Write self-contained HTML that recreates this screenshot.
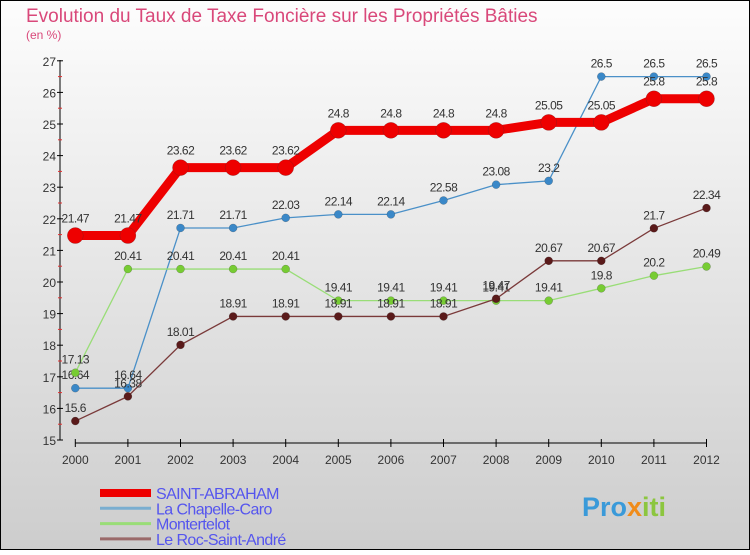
<!DOCTYPE html>
<html><head><meta charset="utf-8"><style>
body{margin:0;width:750px;height:550px;overflow:hidden;font-family:"Liberation Sans",sans-serif}
</style></head><body>
<svg id="c" width="750" height="550" xmlns="http://www.w3.org/2000/svg">
<defs><linearGradient id="bg" x1="0" y1="0" x2="0" y2="1"><stop offset="0" stop-color="#fdfdfd"/><stop offset="1" stop-color="#cdcdcd"/></linearGradient></defs>
<rect x="0" y="0" width="750" height="550" fill="url(#bg)" stroke="#000" stroke-width="2"/>
<text x="26" y="22" font-size="19" fill="#d9487a">Evolution du Taux de Taxe Foncière sur les Propriétés Bâties</text>
<text x="26" y="39" font-size="12" fill="#d9487a">(en %)</text>
<g id="axes"></g><g id="series"></g><g id="legend"></g>
<text x="582" y="516" font-size="27" font-weight="bold" fill="#3a9ad9">Pro<tspan fill="#f08c1a">x</tspan><tspan fill="#8cc63f">iti</tspan></text>
</svg>
<script>
const years=[2000,2001,2002,2003,2004,2005,2006,2007,2008,2009,2010,2011,2012];
const saint=[21.47,21.47,23.62,23.62,23.62,24.8,24.8,24.8,24.8,25.05,25.05,25.8,25.8];
const chapelle=[16.64,16.64,21.71,21.71,22.03,22.14,22.14,22.58,23.08,23.2,26.5,26.5,26.5];
const monter=[17.13,20.41,20.41,20.41,20.41,19.41,19.41,19.41,19.41,19.41,19.8,20.2,20.49];
const roc=[15.6,16.38,18.01,18.91,18.91,18.91,18.91,18.91,19.47,20.67,20.67,21.7,22.34];
const yTicks=[15,16,17,18,19,20,21,22,23,24,25,26,27];
const names=["SAINT-ABRAHAM","La Chapelle-Caro","Montertelot","Le Roc-Saint-André"];
const NS="http://www.w3.org/2000/svg";
const X=i=>75.3+i*52.6, Y=v=>440-(v-15)*31.6;
function mk(p,t,a,txt){const e=document.createElementNS(NS,t);for(const k in a)e.setAttribute(k,a[k]);if(txt!==undefined)e.textContent=txt;p.appendChild(e);return e;}
const ax=document.getElementById('axes');
let e=mk(ax,'line',{x1:60,y1:60,x2:60,y2:440,stroke:'#000'});

yTicks.forEach(t=>{mk(ax,'line',{x1:57,x2:63,y1:Y(t),y2:Y(t),stroke:'#000'});
 if(t<27)mk(ax,'line',{x1:58,x2:62,y1:Y(t+0.5),y2:Y(t+0.5),stroke:'#e03030'});
 e=mk(ax,'text',{x:56,y:Y(t)+5,'font-size':12,'text-anchor':'end',fill:'#333'},t);
 });
e=mk(ax,'line',{x1:X(0),y1:443,x2:X(12),y2:443,stroke:'#000'});

years.forEach((y,i)=>{mk(ax,'line',{x1:X(i),x2:X(i),y1:439,y2:447,stroke:'#000'});
 e=mk(ax,'text',{x:X(i),y:464,'font-size':12,'text-anchor':'middle',fill:'#333'},y);
 });
const defs=[[chapelle,'#4a90c8',1.3,4,'#3a88c8'],[monter,'#99dd77',1.3,4,'#77cc33'],[roc,'#7a3a3a',1.3,4,'#5a1a1a'],[saint,'#ee0000',9,8,'#ee0000']];
const order=[1,2,3,0];
const sg=document.getElementById('series');
defs.forEach((d,k)=>{const g=mk(sg,'g',{});
 
 
 const pts=d[0].map((v,i)=>X(i)+','+Y(v)).join(' ');
 mk(g,'polyline',{points:pts,fill:'none',stroke:d[1],'stroke-width':d[2]});
 d[0].forEach((v,i)=>{e=mk(g,'circle',{cx:X(i),cy:Y(v),r:d[3],fill:d[4],stroke:'#333','stroke-width':0.5,'stroke-opacity':0.4});
  
  e=mk(g,'text',{x:X(i),y:Y(v)-(k==3?13:9),'font-size':12,'text-anchor':'middle',fill:'#333','letter-spacing':'-0.5'},v);
  });});
const lg=document.getElementById('legend');
const lc=['#ee0000','#7aaed0','#99dd77','#9a6a6a'],lw=[8,3,3,3];
names.forEach((n,i)=>{const yy=493+i*15.3;const g=mk(lg,'g',{});
 
 mk(g,'line',{x1:100,x2:151,y1:yy,y2:yy,stroke:lc[i],'stroke-width':lw[i]});
 mk(g,'text',{x:156,y:yy+6,'font-size':16,fill:'#5555ee','letter-spacing':'-0.6'},n);});
</script>
</body></html>
